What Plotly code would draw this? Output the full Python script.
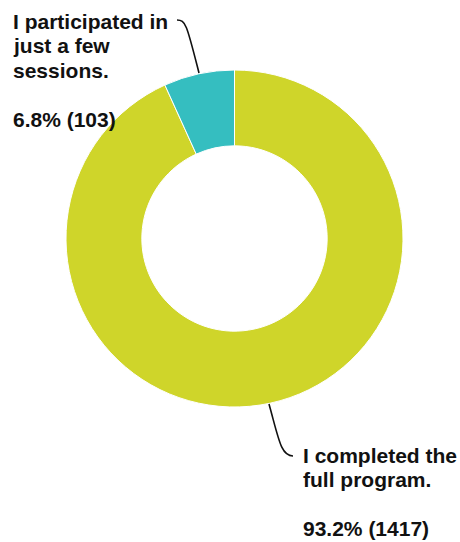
import plotly.graph_objects as go

categories = ["I completed the full program.", "I participated in just a few sessions."]
counts = [1417, 103]
percents = ["93.2%", "6.8%"]
colors = ["#cfd52a", "#35bec0"]

W, H = 460, 542

def px(x, y):
    return x / W, 1 - y / H

(dx0, dy1), (dx1, dy0) = px(66, 70), px(403, 407)

fig = go.Figure(go.Pie(
    labels=categories, values=counts, sort=False, direction="clockwise",
    rotation=0, hole=0.55, textinfo="none", hoverinfo="label+value+percent",
    marker=dict(colors=colors, line=dict(color="white", width=1)),
    domain=dict(x=[dx0, dx1], y=[dy0, dy1]),
    showlegend=False,
))

font = dict(family="Liberation Sans, Arial, sans-serif", size=21, color="#111111")
left_lines = ["I participated in", "just a few", "sessions.", "", f"{percents[1]} ({counts[1]})"]
right_lines = ["I completed the", "full program.", "", f"{percents[0]} ({counts[0]})"]

anns = []
def add_block(lines, x0, y0, step):
    for i, t in enumerate(lines):
        if not t:
            continue
        xx, yy = px(x0, y0 + i * step)
        anns.append(dict(text=f"<b>{t}</b>", x=xx, y=yy, xref="paper", yref="paper",
                         xanchor="left", yanchor="middle", showarrow=False, font=font))

add_block(left_lines, 11, 21, 24.5)
add_block(right_lines, 301, 455, 24.5)

def path(points):
    (x0, y0), (c1x, c1y), (c2x, c2y), (x1, y1) = [px(*p) for p in points]
    return f"M {x0},{y0} C {c1x},{c1y} {c2x},{c2y} {x1},{y1}"

shapes = [
    dict(type="path", xref="paper", yref="paper",
         path=path([(177, 20), (186, 20), (187, 26), (199, 73)]),
         line=dict(color="#111111", width=1.6)),
    dict(type="path", xref="paper", yref="paper",
         path=path([(269, 404), (279, 440), (281, 456), (293, 456)]),
         line=dict(color="#111111", width=1.6)),
]

fig.update_layout(width=W, height=H, margin=dict(l=0, r=0, t=0, b=0),
                  paper_bgcolor="white", plot_bgcolor="white",
                  annotations=anns, shapes=shapes)
fig.write_html("out.html", config={"displayModeBar": False},
               post_script="document.body.style.margin='0';document.body.style.overflow='hidden';")
